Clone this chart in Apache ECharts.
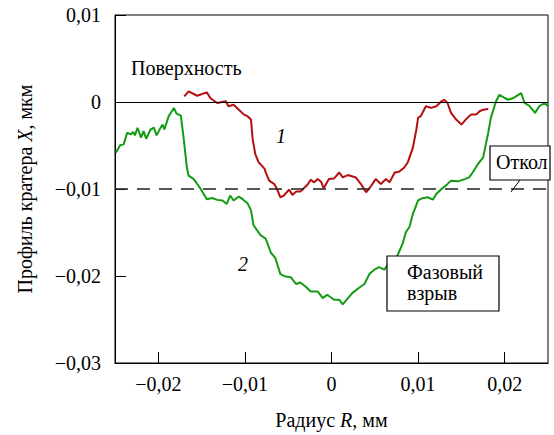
<!DOCTYPE html>
<html>
<head>
<meta charset="utf-8">
<script src="https://cdn.jsdelivr.net/npm/echarts@6/dist/echarts.min.js"></script>
</head>
<body style="margin:0;background:#fff">
<div id="chart" style="width:554px;height:435px"></div>
<script>
// curve 1 (red): surface profile
const radius1 = [-0.0170, -0.0165, -0.0155, -0.0144, -0.0140, -0.0132, -0.0122, -0.0119, -0.0113, -0.0107,
  -0.0101, -0.0097, -0.0093, -0.0091, -0.0088, -0.0084, -0.0082, -0.0077, -0.0076, -0.0072, -0.0066, -0.0063,
  -0.0059, -0.0055, -0.0049, -0.0045, -0.0041, -0.0036, -0.0032, -0.0028, -0.0024, -0.0020, -0.0016, -0.0012,
  -0.0009, -0.0003, 0.0003, 0.0009, 0.0013, 0.0019, 0.0028, 0.0034, 0.0040, 0.0046, 0.0051, 0.0057, 0.0063,
  0.0067, 0.0073, 0.0078, 0.0084, 0.0088, 0.0094, 0.0098, 0.0100, 0.0103, 0.0109, 0.0115, 0.0121, 0.0127,
  0.0130, 0.0134, 0.0138, 0.0144, 0.0150, 0.0155, 0.0161, 0.0167, 0.0171, 0.0175, 0.0181];
const profile1 = [0.00065, 0.00122, 0.00072, 0.00111, 0.00046, -0.00011, 0.00008, -0.00049, -0.00031, -0.00088,
  -0.00145, -0.00163, -0.00202, -0.0043, -0.0060, -0.00696, -0.00715, -0.00772, -0.0081, -0.00904, -0.00943, -0.0100,
  -0.01095, -0.01075, -0.01007, -0.01068, -0.0103, -0.0103, -0.00992, -0.00954, -0.00893, -0.00924, -0.00886, -0.00916,
  -0.00992, -0.00886, -0.00878, -0.0081, -0.00867, -0.0084, -0.00867, -0.00943, -0.01038, -0.00961, -0.00886, -0.00943, -0.00886,
  -0.00924, -0.0081, -0.00802, -0.00753, -0.00696, -0.00525, -0.00316, -0.00182, -0.00163, -0.00049, -0.00068, -0.00049, 0.00008,
  0.00026, -0.00011, -0.00125, -0.00202, -0.00259, -0.00202, -0.00145, -0.00145, -0.00106, -0.00088, -0.0008];

// curve 2 (green): phase explosion
const radius2 = [-0.0249, -0.0244, -0.0240, -0.0236, -0.0232, -0.0229, -0.0227, -0.0224, -0.0220, -0.0217,
  -0.0214, -0.0209, -0.0205, -0.0202, -0.0198, -0.0195, -0.0193, -0.0188, -0.0182, -0.0179, -0.0174, -0.0171,
  -0.0167, -0.0165, -0.0159, -0.0151, -0.0144, -0.0138, -0.0132, -0.0126, -0.0121, -0.0117, -0.0113, -0.0107,
  -0.0103, -0.0097, -0.0093, -0.0090, -0.0082, -0.0076, -0.0070, -0.0065, -0.0059, -0.0053, -0.0047, -0.0041,
  -0.0036, -0.0030, -0.0024, -0.0016, -0.0010, -0.0005, 0.0003, 0.0009, 0.0013, 0.0019, 0.0024, 0.0030, 0.0038,
  0.0044, 0.0049, 0.0055, 0.0061, 0.0065, 0.0071, 0.0076, 0.0082, 0.0086, 0.0090, 0.0094, 0.0100, 0.0105, 0.0111,
  0.0117, 0.0121, 0.0127, 0.0132, 0.0138, 0.0146, 0.0154, 0.0159, 0.0163, 0.0169, 0.0175, 0.0181, 0.0184, 0.0190,
  0.0194, 0.0200, 0.0204, 0.0210, 0.0213, 0.0219, 0.0223, 0.0229, 0.0235, 0.0240, 0.0246, 0.0250];
const profile2 = [-0.00582, -0.00498, -0.00487, -0.00353, -0.00373, -0.00345, -0.00384, -0.00296, -0.0041, -0.00334,
  -0.00422, -0.00316, -0.00296, -0.00384, -0.00308, -0.00259, -0.00316, -0.00163, -0.00068, -0.00133, -0.00156, -0.00391,
  -0.00753, -0.00847, -0.00886, -0.0100, -0.01117, -0.01103, -0.01125, -0.01132, -0.01171, -0.01075, -0.01132, -0.01087,
  -0.01114, -0.01163, -0.01246, -0.01417, -0.01531, -0.0157, -0.01733, -0.0179, -0.01978, -0.02007, -0.02013, -0.02092,
  -0.02075, -0.02121, -0.02178, -0.02178, -0.02254, -0.02216, -0.02273, -0.02273, -0.02326, -0.02254, -0.02197, -0.02149, -0.02092,
  -0.01973, -0.0193, -0.01899, -0.01927, -0.01873, -0.01847, -0.01767, -0.01631, -0.01494, -0.01437, -0.01285, -0.01132, -0.01106, -0.01095,
  -0.01123, -0.01057, -0.0100, -0.00961, -0.00904, -0.00912, -0.00886, -0.00867, -0.0081, -0.00715, -0.00639, -0.00353, -0.00182, 0.00008,
  0.00083, 0.00046, 0.00026, 0.00046, 0.00065, 0.00103, -0.00011, -0.00049, -0.00125, -0.00049, -0.00011, -0.00049];

const xTickValues = [-0.02, -0.01, 0, 0.01, 0.02];

(function () {
  function tickText(v) {
    if (Math.abs(v) < 1e-9) return '0';
    return v.toFixed(2).replace('.', ',').replace('-', '\u2212');
  }
  function pairs(xs, ys) {
    return xs.map(function (x, i) { return [x, ys[i]]; });
  }
  const nameRich = {
    n: { fontFamily: 'Liberation Serif', fontSize: 20, color: '#000' },
    i: { fontFamily: 'Liberation Serif', fontSize: 20, color: '#000', fontStyle: 'italic' },
  };

  // svg renderer: text goes through the page's normal font matching
  const chart = echarts.init(document.getElementById('chart'), null, { renderer: 'svg' });
  chart.setOption({
    animation: false,
    textStyle: { fontFamily: 'Liberation Serif' },
    grid: {
      left: 115, right: 6, top: 15, bottom: 68,
      show: true, borderColor: '#000', borderWidth: 1,
    },
    xAxis: {
      type: 'value', min: -0.025, max: 0.025,
      name: '{n|Радиус }{i|R}{n|, мм}',
      nameLocation: 'middle', nameGap: 47,
      nameTextStyle: { rich: nameRich },
      axisLine: { show: true, onZero: false, lineStyle: { color: '#000', width: 1 } },
      axisTick: { show: true, inside: true, length: 11, customValues: xTickValues, lineStyle: { color: '#000' } },
      axisLabel: { customValues: xTickValues, formatter: tickText, margin: 11, fontFamily: 'Liberation Serif', fontSize: 20, color: '#000' },
      splitLine: { show: false },
    },
    yAxis: {
      type: 'value', min: -0.03, max: 0.01, interval: 0.01,
      name: '{n|Профиль кратера }{i|X}{n|, мкм}',
      nameLocation: 'middle', nameGap: 80,
      nameTextStyle: { rich: nameRich },
      axisLine: { show: true, onZero: false, lineStyle: { color: '#000', width: 1 } },
      axisTick: { show: true, inside: true, length: 11, lineStyle: { color: '#000' } },
      axisLabel: { formatter: tickText, margin: 14, fontFamily: 'Liberation Serif', fontSize: 20, color: '#000' },
      splitLine: { show: false },
    },
    series: [
      {
        type: 'line', name: '1', data: pairs(radius1, profile1),
        showSymbol: false, lineStyle: { color: '#b50f0f', width: 2 }, z: 3,
        markLine: {
          silent: true, symbol: 'none', label: { show: false },
          data: [
            { yAxis: 0, lineStyle: { color: '#000', width: 1.2, type: 'solid' } },
            { yAxis: -0.01, lineStyle: { color: '#222', width: 1.6, type: [13, 9] } },
          ],
        },
      },
      {
        type: 'line', name: '2', data: pairs(radius2, profile2),
        showSymbol: false, lineStyle: { color: '#139c13', width: 2 }, z: 3,
      },
    ],
    graphic: [
      { type: 'text', left: 131, top: 58, z: 10,
        style: { text: 'Поверхность', fontFamily: 'Liberation Serif', fontSize: 20, fill: '#000' } },
      { type: 'text', left: 276, top: 126, z: 10,
        style: { text: '1', fontFamily: 'Liberation Serif', fontSize: 20, fontStyle: 'italic', fill: '#000' } },
      { type: 'text', left: 238, top: 254, z: 10,
        style: { text: '2', fontFamily: 'Liberation Serif', fontSize: 20, fontStyle: 'italic', fill: '#000' } },
      { type: 'rect', shape: { x: 387, y: 256, width: 112, height: 55 }, z: 10,
        style: { fill: '#fff', stroke: '#000', lineWidth: 1.2 } },
      { type: 'text', left: 407, top: 261, z: 11,
        style: { text: 'Фазовый\nвзрыв', fontFamily: 'Liberation Serif', fontSize: 20, fill: '#000', lineHeight: 21 } },
      { type: 'line', shape: { x1: 511, y1: 192, x2: 520, y2: 180 }, z: 10,
        style: { stroke: '#000', lineWidth: 1 } },
      { type: 'rect', shape: { x: 490, y: 146, width: 60, height: 34 }, z: 10,
        style: { fill: '#fff', stroke: '#000', lineWidth: 1.2 } },
      { type: 'text', left: 496, top: 152, z: 11,
        style: { text: 'Откол', fontFamily: 'Liberation Serif', fontSize: 20, fill: '#000' } },
    ],
  });
})();
</script>
</body>
</html>
